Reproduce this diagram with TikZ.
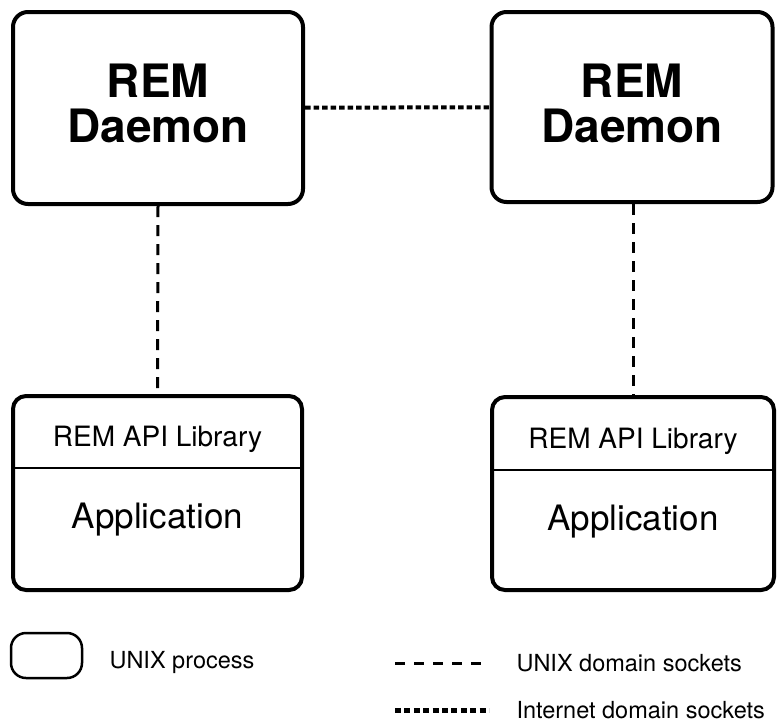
\documentclass[tikz,border=0pt]{standalone}
\usepackage{fontspec}
\setmainfont{TeX Gyre Heros}
\usetikzlibrary{positioning}

\tikzset{
  procbox/.style={draw, line width=4pt, rounded corners=15pt, inner sep=0pt},
  unixsock/.style={line width=3pt, dash pattern=on 11pt off 8pt},
  inetsock/.style={line width=4pt, dash pattern=on 5.5pt off 3pt},
  bigtext/.style={font=\fontsize{46}{45}\selectfont\bfseries, align=center},
  libtext/.style={font=\fontsize{28}{30}\selectfont, anchor=base},
  apptext/.style={font=\fontsize{35}{36}\selectfont, anchor=base},
  legtext/.style={font=\fontsize{23.5}{25}\selectfont, anchor=west},
}

\begin{document}
\begin{tikzpicture}[x=1pt,y=-1pt]
\useasboundingbox (0,0) rectangle (778,726);

% Daemons
\node[procbox, minimum width=290pt, minimum height=192pt] (dmnL) at (158,108) {};
\node[bigtext] (dmnLtxt) at (158,103) {REM\\Daemon};

\node[procbox, minimum width=281pt, minimum height=190pt] (dmnR) at (632,107) {};
\node[bigtext] (dmnRtxt) at (632,103) {REM\\Daemon};

% Applications
\node[procbox, rounded corners=13pt, minimum width=289pt, minimum height=194pt] (appL) at (157.5,493) {};
\coordinate (sepL) at (0,468);
\draw[line width=2pt] (appL.west |- sepL) -- (appL.east |- sepL);
\node[libtext] (libL) at (157.5,446) {REM API Library};
\node[apptext] (appLtxt) at (157.5,528) {Application};

\node[procbox, rounded corners=13pt, minimum width=282pt, minimum height=193pt] (appR) at (633,493.5) {};
\coordinate (sepR) at (0,470);
\draw[line width=2pt] (appR.west |- sepR) -- (appR.east |- sepR);
\node[libtext] (libR) at (633,448) {REM API Library};
\node[apptext] (appRtxt) at (633,530) {Application};

% Sockets
\draw[inetsock] (dmnL) -- (dmnR);
\draw[unixsock] (dmnL.south) -- (appL.north);
\draw[unixsock] (dmnR.south -| appR.north) -- (appR.north);

% Legend
\node[procbox, line width=2.5pt, rounded corners=15pt, minimum width=71pt, minimum height=45pt] (legbox) at (46.5,655.5) {};
\node[legtext] (legproc) at (106,662) {UNIX process};

\coordinate (unixA) at (395,663);
\coordinate (unixB) at (482,663);
\draw[unixsock, dash pattern=on 10pt off 9pt] (unixA) -- (unixB);
\node[legtext] (legunix) at (513,663) {UNIX domain sockets};

\coordinate (inetA) at (395,710);
\coordinate (inetB) at (489,710);
\draw[inetsock, line width=5pt, dash pattern=on 6pt off 3.4pt] (inetA) -- (inetB);
\node[legtext] (leginet) at (513,710) {Internet domain sockets};

\end{tikzpicture}
\end{document}
